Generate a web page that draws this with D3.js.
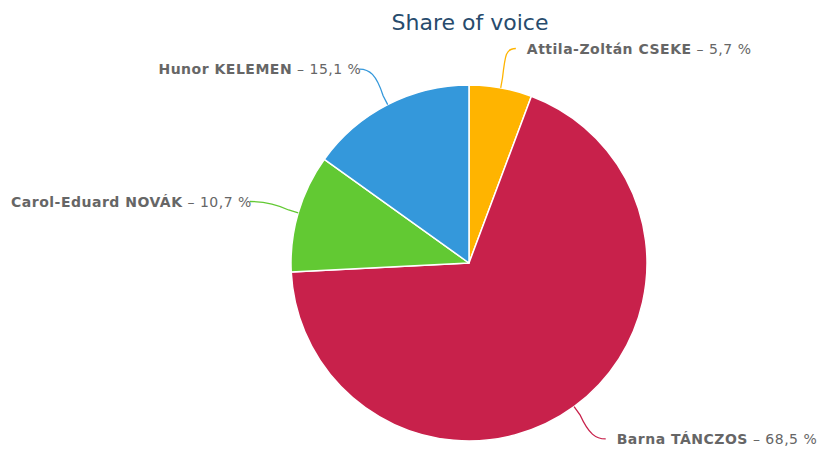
<!DOCTYPE html>
<html>
<head>
<meta charset="utf-8">
<script src="https://cdn.jsdelivr.net/npm/d3@7/dist/d3.min.js"></script>
<style>
  body { margin: 0; background: #fff; }
  text { font-family: "DejaVu Sans", Verdana, sans-serif; }
</style>
</head>
<body>
<div id="chart"></div>
<script>
// chart data
var names = ["Attila-Zoltán CSEKE", "Barna TÁNCZOS", "Carol-Eduard NOVÁK", "Hunor KELEMEN"];
var shares = [5.7, 68.5, 10.7, 15.1];
var colors = ["#ffb400", "#c8214b", "#62c933", "#3498db"];

var width = 822, height = 450;
var cx = 469, cy = 263, r = 178;
var labelDist = 40;

var svg = d3.select("#chart")
            .append("svg")
            .attr("width", width)
            .attr("height", height);

// title
svg.append("text")
   .attr("x", 470)
   .attr("y", 30)
   .attr("text-anchor", "middle")
   .style("font-size", "22px")
   .style("fill", "#274b6d")
   .text("Share of voice");

var data = names.map(function(n, i) { return { name: n, value: shares[i], color: colors[i] }; });

var pie = d3.pie()
    .sort(null)
    .value(function(d) { return d.value; });

var arc = d3.arc()
    .innerRadius(0)
    .outerRadius(r);

var arcs = pie(data);

var g = svg.append("g")
    .attr("transform", "translate(" + cx + "," + cy + ")");

// slices
g.selectAll("path.slice")
 .data(arcs)
 .enter()
 .append("path")
 .attr("class", "slice")
 .attr("d", arc)
 .style("fill", function(d) { return d.data.color; })
 .style("stroke", "#fff")
 .style("stroke-width", 1.5)
 .style("stroke-linejoin", "round");

function mid(d) { return (d.startAngle + d.endAngle) / 2; }

// connectors + labels
arcs.forEach(function(d) {
  var a = mid(d);
  var side = Math.sin(a) >= 0 ? 1 : -1;
  var ex = r * Math.sin(a), ey = -r * Math.cos(a);
  var ax = (r + labelDist) * Math.sin(a), ay = -(r + labelDist) * Math.cos(a);
  var kx = (r + 10) * Math.sin(a), ky = -(r + 10) * Math.cos(a);
  var endX = side > 0 ? ax + 8 : ax - 10;

  var p = d3.path();
  p.moveTo(ex, ey);
  p.lineTo(kx, ky);
  p.bezierCurveTo(kx + (ax - kx) * 0.5, ky + (ay - ky) * 0.8,
                  endX - side * 10, ay,
                  endX, ay);
  g.append("path")
   .attr("d", p.toString())
   .style("fill", "none")
   .style("stroke", d.data.color)
   .style("stroke-width", 1.3);

  var t = g.append("text")
   .attr("x", side > 0 ? ax + 19 : ax - 8)
   .attr("y", ay + 5)
   .attr("text-anchor", side > 0 ? "start" : "end")
   .style("font-size", "14px")
   .style("letter-spacing", "0.5px")
   .style("fill", "#666");
  t.append("tspan").style("font-weight", "bold").text(d.data.name);
  t.append("tspan").text(" – " + d3.format(".1f")(d.data.value).replace(".", ",") + " %");
});
</script>
</body>
</html>
